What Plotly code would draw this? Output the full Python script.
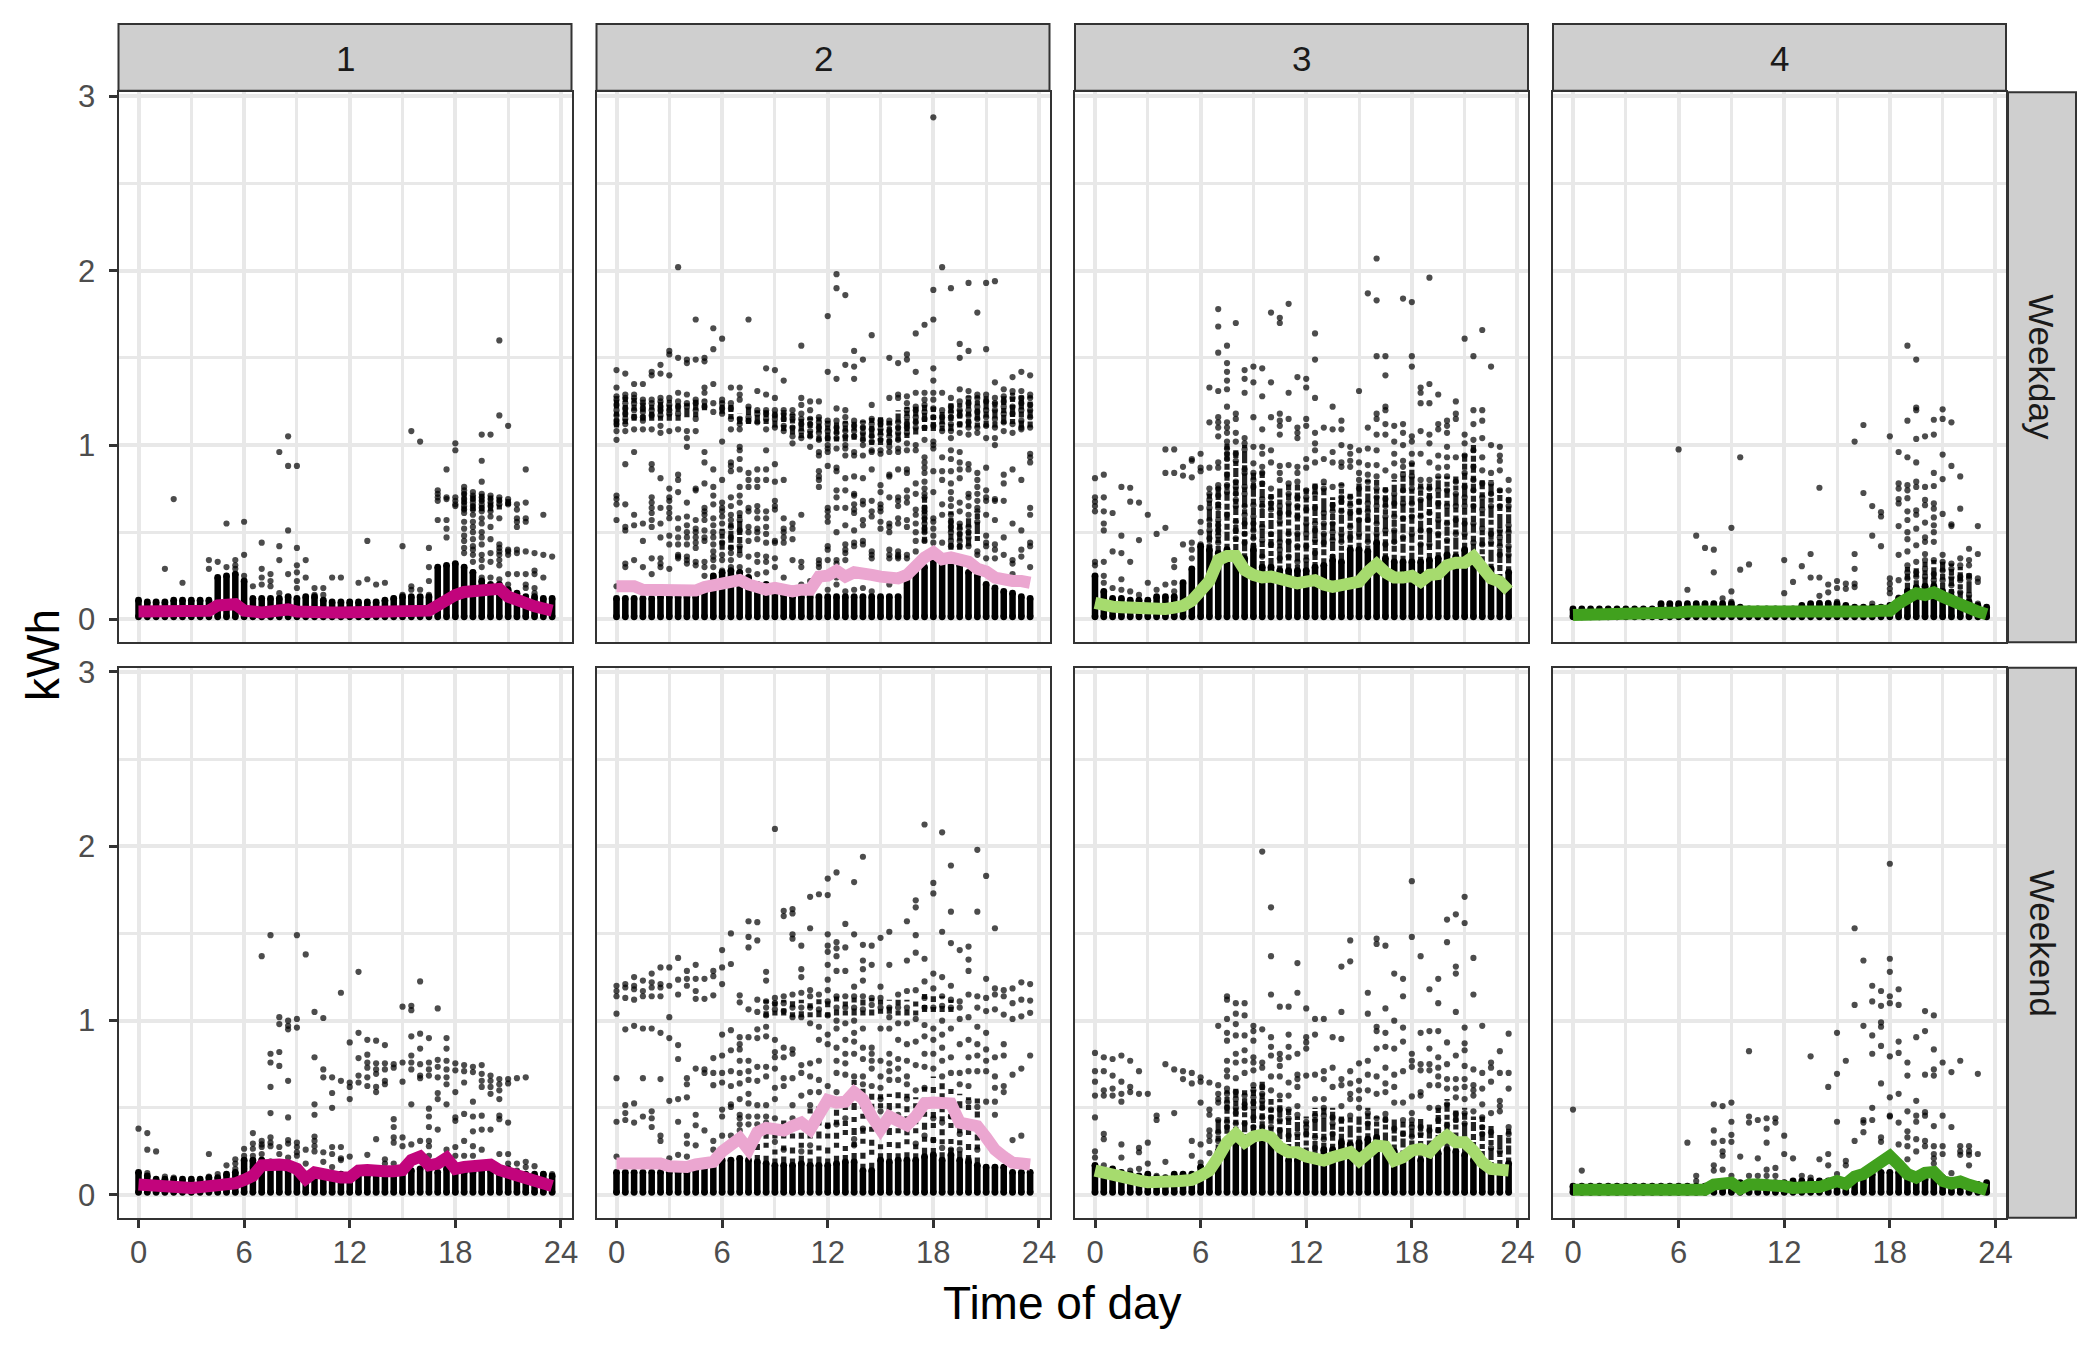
import plotly.graph_objects as go

SLOTS = [h / 2 for h in range(48)]
CLUSTERS = ["1", "2", "3", "4"]
DAYS = ["Weekday", "Weekend"]
COLORS = ["#C2047C", "#EBA6D0", "#A6DB6E", "#41A11E"]

W1_mean = [.045,.045,.045,.045,.045,.045,.045,.045,.05,.08,.09,.087,.05,.04,.04,.045,.057,.057,.045,.04,.04,.04,.04,.04,.04,.04,.04,.04,.04,.04,.04,.04,.045,.05,.08,.12,.14,.157,.165,.165,.17,.175,.13,.107,.09,.075,.062,.05]
W2_mean = [.19,.19,.19,.17,.17,.17,.17,.17,.165,.165,.185,.195,.22,.23,.225,.2,.18,.17,.18,.17,.16,.17,.17,.245,.25,.28,.245,.27,.255,.255,.245,.235,.235,.255,.31,.355,.385,.345,.355,.345,.33,.29,.275,.24,.225,.22,.22,.21]
W3_mean = [.095,.08,.073,.07,.067,.063,.057,.057,.06,.067,.078,.107,.165,.22,.34,.363,.363,.283,.255,.24,.245,.235,.22,.207,.216,.225,.2,.187,.197,.21,.216,.273,.317,.27,.24,.24,.25,.216,.255,.26,.31,.325,.325,.36,.293,.235,.216,.165]
W4_mean = [.025,.025,.025,.025,.025,.025,.025,.03,.03,.03,.035,.04,.04,.045,.045,.04,.04,.04,.04,.035,.035,.03,.03,.03,.03,.03,.03,.03,.035,.035,.035,.035,.04,.045,.045,.05,.05,.09,.13,.15,.14,.155,.13,.105,.08,.06,.045,.03]
E1_mean = [.06,.055,.045,.045,.04,.04,.04,.045,.048,.048,.055,.067,.086,.11,.17,.178,.174,.17,.15,.092,.13,.12,.105,.1,.1,.14,.143,.147,.136,.136,.143,.2,.22,.17,.18,.212,.15,.16,.17,.18,.174,.143,.13,.11,.092,.076,.063,.052]
E2_mean = [.18,.18,.18,.175,.185,.18,.165,.16,.16,.175,.19,.19,.25,.285,.325,.26,.36,.385,.385,.37,.395,.415,.375,.45,.545,.53,.535,.59,.55,.45,.375,.45,.42,.4,.45,.525,.53,.525,.525,.415,.4,.395,.33,.26,.22,.185,.18,.175]
E3_mean = [.14,.125,.12,.11,.092,.082,.073,.069,.069,.078,.082,.086,.11,.14,.216,.302,.35,.302,.335,.346,.33,.273,.245,.245,.22,.207,.197,.216,.235,.245,.197,.24,.283,.277,.197,.216,.254,.264,.245,.302,.34,.302,.302,.254,.187,.149,.149,.14]
E4_mean = [.03,.03,.03,.03,.03,.03,.03,.03,.03,.03,.03,.03,.03,.03,.03,.03,.06,.06,.07,.035,.06,.06,.06,.06,.05,.04,.035,.045,.045,.058,.08,.063,.105,.12,.15,.18,.223,.173,.12,.1,.127,.132,.08,.066,.077,.058,.044,.028]

W1_top = [.11,.1,.1,.1,.11,.11,.11,.11,.11,.24,.25,.26,.22,.12,.12,.12,.12,.13,.12,.13,.13,.11,.1,.1,.1,.1,.1,.1,.11,.12,.13,.13,.13,.13,.3,.31,.32,.3,.27,.22,.2,.2,.17,.15,.13,.13,.12,.12]
W2_top = [.12,.12,.12,.12,.12,.13,.13,.13,.13,.13,.16,.25,.27,.28,.27,.24,.2,.2,.18,.14,.13,.13,.13,.13,.13,.13,.13,.13,.13,.13,.13,.13,.13,.24,.28,.3,.36,.36,.33,.31,.27,.25,.2,.18,.16,.15,.13,.12]
W3_top = [.25,.16,.12,.12,.11,.11,.11,.13,.13,.13,.21,.29,.42,.4,.38,.4,.38,.35,.4,.3,.3,.28,.28,.28,.28,.3,.31,.34,.33,.4,.4,.39,.44,.35,.33,.33,.33,.33,.34,.35,.37,.36,.4,.33,.31,.29,.22,.27]
W4_top = [.06,.06,.06,.06,.06,.06,.06,.06,.06,.06,.09,.09,.09,.09,.09,.09,.09,.09,.09,.07,.06,.06,.06,.06,.06,.06,.08,.09,.09,.09,.09,.08,.07,.07,.07,.07,.08,.12,.16,.18,.19,.19,.16,.13,.1,.1,.08,.07]
E1_top = [.13,.11,.09,.09,.09,.09,.09,.09,.1,.1,.12,.13,.2,.2,.2,.19,.15,.14,.14,.12,.13,.13,.12,.12,.11,.12,.11,.12,.13,.13,.13,.14,.15,.14,.13,.15,.14,.13,.13,.14,.14,.13,.15,.13,.12,.12,.12,.11]
E2_top = [.13,.13,.13,.13,.13,.13,.13,.13,.13,.14,.16,.17,.2,.2,.21,.2,.19,.18,.17,.17,.17,.18,.17,.17,.17,.18,.19,.19,.14,.14,.2,.19,.2,.2,.2,.22,.23,.2,.23,.2,.19,.17,.16,.16,.16,.13,.13,.13]
E3_top = [.17,.14,.15,.13,.12,.11,.12,.1,.1,.12,.12,.12,.16,.16,.25,.3,.34,.32,.31,.32,.3,.28,.2,.2,.22,.2,.26,.26,.3,.29,.3,.32,.33,.25,.25,.22,.22,.2,.22,.24,.26,.25,.23,.2,.2,.16,.16,.18]
E4_top = [.05,.05,.05,.05,.05,.05,.05,.05,.05,.05,.05,.05,.05,.05,.05,.05,.06,.06,.07,.07,.07,.07,.07,.07,.07,.08,.08,.08,.08,.08,.08,.08,.09,.11,.12,.13,.13,.13,.11,.1,.09,.11,.1,.08,.07,.06,.06,.07]

# (slot, low, high) runs of closely packed readings
W1_runs = [(37,.62,.74),(38,.62,.72),(39,.62,.72),(40,.62,.71),(41,.63,.7),(42,.65,.69)]
W2_runs = [(0,1.1,1.28),(1,1.12,1.28),(2,1.14,1.27),(3,1.14,1.26),(4,1.14,1.25),(5,1.14,1.26),(6,1.14,1.26),(7,1.14,1.24),(8,1.16,1.24),(9,1.16,1.26),(10,1.2,1.26),(12,1.18,1.25),(13,1.15,1.23),(14,1.12,1.18),(15,1.12,1.22),(16,1.12,1.2),(17,1.12,1.2),(18,1.1,1.2),(19,1.08,1.2),(20,1.06,1.18),(21,1.04,1.16),(22,1.04,1.16),(23,1.02,1.16),(24,1.02,1.14),(25,1.02,1.14),(26,1.02,1.14),(27,1.03,1.14),(28,1.02,1.14),(29,1.0,1.16),(30,1.0,1.16),(31,1.0,1.14),(32,1.02,1.2),(33,1.04,1.22),(34,1.06,1.22),(35,1.08,1.24),(36,1.08,1.22),(37,1.08,1.2),(38,1.08,1.24),(39,1.1,1.24),(40,1.1,1.28),(41,1.1,1.28),(42,1.1,1.28),(43,1.1,1.26),(44,1.12,1.28),(45,1.12,1.3),(46,1.1,1.3),(47,1.1,1.28),
           (35,.44,.72),(38,.4,.62),(39,.4,.56),(40,.42,.58),(41,.45,.62),(14,.38,.6),(13,.4,.56),(12,.4,.52)]
W3_runs = [(13,.4,.72),(14,.38,.76),(15,.4,1.02),(16,.38,.97),(17,.35,1.0),(18,.4,.85),(19,.3,.85),(20,.3,.72),(21,.28,.75),(22,.28,.78),(23,.28,.78),(24,.28,.75),(25,.3,.78),(26,.31,.78),(27,.34,.7),(28,.33,.78),(29,.4,.72),(30,.4,.78),(31,.39,.8),(32,.44,.8),(33,.35,.76),(34,.33,.8),(35,.33,.85),(36,.33,.9),(37,.33,.78),(38,.34,.78),(39,.35,.82),(40,.37,.82),(41,.36,.82),(42,.4,.95),(43,.33,1.0),(44,.31,.8),(45,.29,.8),(46,.22,.75),(47,.27,.7)]
W4_runs = [(38,.17,.3),(39,.19,.3),(40,.19,.33),(41,.19,.34),(42,.17,.33),(43,.14,.32),(44,.11,.3),(45,.11,.27)]
E2_runs = [(16,.2,.3),(17,.19,.36),(18,.18,.42),(19,.18,.44),(20,.18,.4),(21,.19,.42),(22,.18,.5),(23,.18,.52),(24,.18,.46),(25,.19,.5),(26,.2,.6),(27,.2,.66),(28,.15,.62),(29,.15,.6),(30,.21,.62),(31,.2,.58),(32,.21,.6),(33,.21,.58),(34,.21,.56),(35,.23,.66),(36,.24,.68),(37,.21,.66),(38,.24,.66),(39,.21,.58),(40,.2,.56),(41,.18,.56),
           (17,1.02,1.12),(18,1.03,1.12),(19,1.03,1.12),(20,1.02,1.12),(21,1.02,1.12),(22,1.02,1.14),(23,1.02,1.15),(24,1.02,1.15),(25,1.03,1.14),(26,1.03,1.14),(27,1.03,1.16),(28,1.03,1.14),(29,1.03,1.13),(30,1.04,1.12),(31,1.04,1.12),(32,1.03,1.12),(33,1.03,1.12),(34,1.03,1.14),(35,1.05,1.16),(36,1.05,1.14),(37,1.05,1.14),(38,1.05,1.12)]
E3_runs = [(14,.25,.45),(15,.3,.6),(16,.34,.62),(17,.32,.6),(18,.31,.62),(19,.32,.65),(20,.3,.55),(21,.28,.55),(22,.2,.5),(23,.2,.45),(24,.22,.45),(25,.2,.5),(26,.26,.5),(27,.26,.5),(28,.3,.45),(29,.29,.45),(30,.3,.45),(31,.32,.5),(32,.33,.45),(33,.25,.45),(34,.25,.45),(35,.22,.42),(36,.22,.42),(37,.2,.45),(38,.22,.42),(39,.24,.5),(40,.26,.55),(41,.25,.5),(42,.23,.5),(43,.2,.45),(44,.2,.45),(45,.16,.4),(46,.16,.35),(47,.18,.38)]

W1_pts = {3:[.29],4:[.69],5:[.21],8:[.34,.29],9:[.33],10:[.55,.3],11:[.34,.31,.29],12:[.56,.37,.25],13:[.19],14:[.44,.29,.24,.2],15:[.26,.22,.19],16:[.96,.42,.34,.15],17:[1.05,.88,.51,.26],18:[.88,.41,.31,.27,.22,.18],19:[.34,.24],20:[.18,.14],21:[.18,.14],22:[.24],23:[.24],25:[.21],26:[.45,.23],27:[.2],28:[.21],29:[.12],30:[.42,.14],31:[1.08,.19,.17],32:[1.02,.17],33:[.41,.3,.22,.14],
34:[.74,.72,.7,.68,.57],35:[.86,.7,.69,.57,.52,.47],36:[1.01,.97,.7,.68,.66,.65],37:[.76,.74,.72,.69,.67,.65,.63,.61,.56,.52,.48,.45,.41,.38],38:[.73,.71,.69,.67,.65,.63,.6,.56,.53,.5,.46,.42,.4,.37,.33,.27],39:[1.06,.91,.79,.72,.7,.68,.66,.64,.62,.58,.55,.5,.47,.43,.37,.34,.3,.24],40:[1.06,.71,.69,.67,.65,.62,.59,.53,.46,.38,.33,.24],41:[1.6,1.17,.7,.68,.66,.58,.43,.41,.39,.37,.34,.31,.23],42:[1.11,.69,.67,.66,.4,.39,.37,.26,.2],43:[.66,.63,.58,.56,.53,.4,.38,.26],44:[.86,.67,.58,.56,.39,.26,.2,.18],45:[.38,.28,.26,.18,.15],46:[.6,.37,.24],47:[.36]}

W2_pts = {0:[1.43,1.33,1.28,1.26,1.23,1.2,1.17,1.14,1.12,1.08,1.03,.71,.69,.66,.57,.19],1:[1.41,1.29,1.27,1.24,1.21,1.18,1.15,1.12,1.08,.89,.66,.53,.51,.32,.3,.19],2:[1.35,1.29,1.27,1.24,1.2,1.16,1.09,.96,.6,.54,.34],3:[1.35,1.26,1.24,1.21,1.19,1.16,1.14,1.09,.55,.45,.3],4:[1.42,1.4,1.26,1.24,1.2,1.17,1.09,.89,.86,.7,.67,.64,.61,.57,.53,.35,.26],5:[1.46,1.41,1.27,1.25,1.22,1.2,1.17,1.11,1.07,.81,.64,.55,.47,.35,.32,.3],6:[1.54,1.52,1.4,1.27,1.23,1.2,1.18,1.08,.75,.7,.68,.64,.61,.58,.48,.43,.29],7:[2.02,1.5,1.3,1.25,1.22,1.18,1.09,.83,.8,.73,.58,.52,.47,.43,.37,.36,.35],8:[1.49,1.47,1.29,1.24,1.22,1.08,1.04,.99,.67,.59,.54,.5,.47,.43,.36,.34,.32],9:[1.72,1.49,1.26,1.24,1.2,1.15,1.08,.75,.74,.57,.52,.5,.47,.44,.41,.33,.31],10:[1.5,1.48,1.33,1.3,1.25,1.22,.96,.9,.78,.64,.62,.6,.57,.51,.47,.45,.33,.3,.25],11:[1.67,1.55,1.35,1.24,1.19,.86,.76,.71,.66,.58,.54,.5,.47,.43,.39,.36,.34,.3],12:[1.61,1.26,1.24,1.21,1.18,1.02,.8,.67,.64,.62,.59,.55,.5,.44,.37,.34,.28],13:[1.33,1.24,1.21,1.15,1.09,.9,.88,.85,.7,.65,.6,.57,.53,.47,.41,.38,.34,.3],14:[1.33,1.29,1.26,1.15,1.12,1.09,.99,.97,.92,.86,.76,.71,.67,.61,.57,.51,.42,.37,.3,.27],15:[1.72,1.22,1.16,1.14,.84,.8,.76,.64,.62,.53,.5,.45,.36,.28,.24],16:[1.31,1.2,1.18,1.13,.86,.8,.76,.65,.62,.58,.52,.5,.46,.37,.33,.26],17:[1.44,1.29,1.2,1.18,1.15,1.09,.97,.86,.8,.62,.58,.53,.49,.44,.36,.33,.27],18:[1.43,1.27,1.2,1.17,1.15,1.1,.89,.79,.68,.65,.63,.45,.44,.35,.3],19:[1.37,1.2,1.18,1.15,1.11,1.08,.8,.58,.52,.5,.47,.44,.24],20:[1.2,1.17,1.15,1.1,1.05,1.01,.55,.52,.46,.34],21:[1.57,1.27,1.23,1.18,1.15,1.12,1.08,1.04,.6,.33,.3,.2],22:[1.25,1.2,1.15,1.12,1.08,1.05,.99,.22],23:[1.25,1.16,1.13,1.1,1.07,1.03,.96,.94,.85,.82,.8,.76,.34,.32,.3,.23],
24:[1.74,1.42,1.14,1.12,1.08,1.04,1.0,.98,.96,.88,.64,.62,.59,.56,.42,.4,.34,.26,.17],25:[1.98,1.9,1.38,1.21,1.14,1.1,1.07,1.04,.98,.87,.85,.74,.7,.64,.5,.34,.32,.24,.2],26:[1.86,1.46,1.2,1.16,1.12,1.08,1.05,1.0,.98,.94,.81,.74,.64,.54,.43,.4,.38,.34,.16],27:[1.54,1.45,1.38,1.14,1.11,1.08,1.05,.96,.94,.82,.72,.71,.66,.63,.61,.51,.44,.42,.17],28:[1.49,1.13,1.1,1.07,1.03,1.0,.94,.81,.68,.66,.57,.54,.45,.43,.18],29:[1.63,1.23,1.15,1.12,1.09,1.05,1.02,.97,.96,.86,.68,.62,.59,.39,.37,.35,.16],30:[1.14,1.12,1.09,1.06,1.03,.97,.95,.77,.73,.66,.64,.62,.56,.52,.25],31:[1.5,1.27,1.14,1.12,1.08,1.05,1.02,.99,.96,.83,.82,.7,.55,.53,.5,.4,.37,.35,.2],32:[1.47,1.29,1.27,1.13,1.1,1.07,1.03,.98,.96,.86,.7,.68,.65,.58,.55,.39,.37,.36,.35],33:[1.52,1.49,1.28,1.24,1.2,1.16,1.12,1.1,1.07,1.01,.97,.86,.84,.74,.7,.67,.57,.53,.37,.35,.18],34:[1.64,1.42,1.3,1.22,1.2,1.16,1.13,1.1,1.0,.97,.78,.72,.63,.6,.55,.5,.45,.39,.27,.25],35:[1.69,1.3,1.26,1.23,1.19,1.15,1.1,1.03,.93,.9,.87,.84,.79,.75,.72,.7,.64,.62,.6,.58,.55,.52,.5,.45],36:[2.88,1.89,1.72,1.44,1.37,1.3,1.26,1.21,1.16,1.11,1.02,1.0,.98,.85,.73,.58,.56,.52,.48,.44],37:[2.02,1.3,1.2,1.16,1.12,1.08,.93,.85,.8,.66,.6,.44],38:[1.9,1.27,1.22,1.19,1.16,1.12,1.08,1.04,.97,.92,.85,.78,.73,.69,.65,.6,.56,.53,.5,.45,.42],39:[1.58,1.5,1.32,1.25,1.2,1.17,1.12,1.07,.96,.9,.86,.81,.67,.62,.55,.52,.49,.45,.42],40:[1.93,1.54,1.31,1.27,1.24,1.2,1.17,1.13,1.1,1.06,.89,.86,.72,.7,.65,.6,.53,.5,.47,.42],41:[1.76,1.29,1.27,1.22,1.19,1.15,1.1,1.07,.84,.8,.76,.72,.68,.64,.62,.56,.39,.37],42:[1.93,1.55,1.29,1.25,1.2,1.16,1.11,1.04,.87,.74,.7,.68,.6,.48,.44,.42,.35],43:[1.94,1.36,1.27,1.24,1.2,1.15,1.1,1.04,1.0,.69,.68,.57,.43,.4,.35],44:[1.32,1.28,1.25,1.22,1.18,1.13,1.08,.83,.78,.68,.47,.37],45:[1.39,1.31,1.27,1.22,1.18,1.12,1.07,.86,.55,.34,.32,.26],46:[1.42,1.31,1.27,1.24,1.2,1.14,1.1,1.09,.8,.51,.4,.36],47:[1.4,1.29,1.27,1.23,1.2,1.16,1.1,.95,.93,.9,.64,.6,.44,.42,.3]}

W3_pts = {0:[.81,.7,.675,.65,.62,.33,.31],1:[.83,.7,.62,.55,.51,.33,.25,.21],2:[.61,.39,.18],3:[.76,.48,.38,.23,.17],4:[.755,.675,.33,.16],5:[.67,.455,.14],6:[.6,.21],7:[.49,.17],8:[.975,.84,.525,.2],9:[.975,.84,.34,.3,.21,.16],10:[.875,.825,.43],11:[.92,.91,.815,.44,.4,.35],12:[.95,.87,.85,.64,.56,.5,.43],13:[1.33,1.13,.87,.75,.72,.685,.64,.57,.51,.465,.42],14:[1.78,1.68,1.53,1.31,1.16,1.13,1.1,1.05,.9,.87,.77,.75,.71,.66,.64,.57,.54,.51,.48,.44],15:[1.57,1.47,1.42,1.37,1.32,1.22,1.13,1.1,1.07,1.02,.98,.95,.92,.83,.77,.73,.6],16:[1.7,1.18,1.15,1.07,1.02,.95,.91,.79,.76,.72,.685,.65,.56,.51,.465],17:[1.43,1.38,1.3,1.04,1.01,.975,.86,.84,.76,.72,.65,.6,.55,.49,.44],18:[1.45,1.36,1.16,.99,.895,.84,.8,.76,.655,.59,.55,.51,.465,.42],19:[1.44,1.28,1.09,.99,.95,.875,.84,.78,.69,.65,.53,.455,.36],20:[1.76,1.36,1.16,.97,.9,.75,.7,.665,.63,.49,.43],21:[1.73,1.7,1.18,1.14,1.11,1.06,.88,.84,.8,.65,.61,.56,.445,.4,.35],22:[1.81,1.3,1.15,.885,.78,.72,.665,.61,.49,.445,.36],23:[1.39,1.1,1.07,1.04,.875,.84,.79,.7,.65,.59,.49,.42,.33],
24:[1.38,1.33,1.15,1.11,.92,.87,.74,.7,.63,.55,.49,.42,.34],25:[1.64,1.49,1.27,1.07,1.01,.97,.9,.76,.72,.64,.55,.51,.455,.38],26:[1.1,.92,.79,.75,.61,.55,.49,.44],27:[1.22,1.09,.96,.9,.76,.655,.62,.55,.5,.455,.36],28:[1.14,1.09,1.0,.9,.875,.77,.7,.675,.62,.49,.445],29:[.99,.95,.91,.875,.7,.655,.61,.53,.47],30:[1.31,.97,.9,.84,.8,.75,.675,.62,.57,.49],31:[1.87,1.1,.98,.885,.83,.79,.665,.62,.57,.445],32:[2.07,1.83,1.51,1.18,1.15,1.06,.97,.885,.82,.75,.7,.65,.55,.49],33:[1.51,1.4,1.22,1.2,1.12,1.06,.855,.74,.69,.65,.59,.51,.43],34:[1.11,1.02,.95,.895,.82,.72,.665,.59,.51,.445],35:[1.84,1.12,1.07,1.0,.91,.875,.83,.74,.665,.58,.47],36:[1.82,1.51,1.45,1.05,1.02,.95,.895,.82,.75,.665,.59,.49],37:[1.33,1.3,1.24,1.08,.95,.8,.75,.685,.59,.51,.43],38:[1.96,1.35,1.24,1.06,1.01,.9,.8,.75,.7,.61,.51,.43],39:[1.29,1.12,1.09,.94,.87,.82,.74,.665,.57,.49],40:[1.14,1.11,1.07,.99,.93,.875,.82,.74,.65,.55,.455],41:[1.25,1.18,1.15,.93,.79,.72,.65,.57,.49],42:[1.61,1.06,1.01,.94,.84,.76,.7,.65,.55,.49],43:[1.51,1.2,1.12,1.03,.97,.875,.8,.74,.65,.55,.44],44:[1.66,1.2,1.14,1.04,.93,.855,.78,.7,.63,.52,.43],45:[1.45,1.0,.84,.78,.72,.65,.49,.44],46:[.99,.94,.91,.855,.74,.65,.51,.47,.42,.37],47:[.8,.74,.685,.65,.54,.5,.42,.37]}

W4_pts = {12:[.975],13:[.17],14:[.48],15:[.41],16:[.4,.27],17:[.12],18:[.525,.16,.1],19:[.93,.285],20:[.315],24:[.34,.15],25:[.215],26:[.305],27:[.375,.24],28:[.755,.24,.135,.095],29:[.2,.155,.095],30:[.22,.18,.1],31:[.205,.175],32:[1.02,.375,.29,.205,.185],33:[1.115,.725],34:[.65,.48,.09],35:[.615,.59,.42],36:[1.05,.235,.205,.175,.15],37:[.96,.78,.75,.69,.665,.535,.37,.225,.125],38:[1.57,1.14,.93,.77,.74,.695,.62,.57,.5,.46,.39,.31,.27,.235,.165],39:[1.49,1.215,1.2,1.035,.9,.79,.76,.625,.6,.52,.425,.33,.27,.245,.185],40:[1.05,.76,.685,.655,.555,.47,.445,.375,.34,.29,.245,.185],41:[1.145,1.06,.84,.765,.665,.635,.585,.54,.5,.445,.34,.26,.225,.165],42:[1.205,1.15,.945,.805,.605,.37,.33,.28,.225],43:[1.13,.88,.545,.535,.32,.29,.24,.195,.155],44:[.82,.635,.35,.31,.245,.225,.155],45:[.405,.34,.31,.25,.235,.14],46:[.535,.375,.235,.215,.09]}

E1_pts = {0:[.38],1:[.355,.26,.125],2:[.25],3:[.105],4:[.1],8:[.235,.105],9:[.12],10:[.17,.11],11:[.205,.18,.15,.12],12:[.265,.225,.2,.15],13:[.355,.295,.265,.225,.19,.16],14:[1.37,.31,.29,.275,.235,.2],15:[1.49,.81,.76,.62,.47,.33,.3,.28],16:[1.02,.98,.82,.74,.275,.235],17:[1.0,.97,.95,.655,.445,.315,.295,.215],18:[1.49,1.01,.96,.3,.275,.245,.225],19:[1.38,.26,.18],20:[1.05,.79,.52,.46,.335,.31,.28,.25],21:[1.015,.72,.675,.245,.19],22:[.675,.585,.5,.275,.235,.16],23:[1.16,.655,.275,.21,.2],24:[.875,.645,.62,.55,.22],25:[1.28,.93,.785,.685,.645],26:[.89,.805,.76,.73,.675,.625,.23],27:[.885,.755,.72,.695,.62,.59,.32],28:[.86,.755,.72,.655,.635,.205,.18],29:[.75,.73,.435,.39,.33,.3,.18],30:[1.08,.76,.65,.33,.28],31:[1.085,1.06,.91,.8,.76,.72,.52,.29],32:[1.225,.925,.84,.75,.685,.67,.31],33:[.9,.76,.72,.685,.495,.45,.39,.31,.28,.225],34:[1.07,.775,.735,.675,.585,.55,.375],35:[.9,.84,.77,.72,.675,.635,.52,.26,.23],36:[.755,.715,.59,.445,.425,.275,.225],37:[.745,.71,.645,.465,.31,.225],38:[.735,.705,.535,.45,.365,.28,.225],39:[.745,.695,.655,.62,.455,.375,.26],40:[.685,.655,.62,.58,.375],41:[.665,.635,.6,.55,.455,.435,.235],42:[.665,.64,.415,.235,.18],43:[.67,.18,.14],44:[.675,.19,.16],45:[.165],46:[.12],47:[.12]}

E2_pts = {0:[1.2,1.17,1.14,1.04,.67,.42,.22],1:[1.21,1.19,1.13,.95,.515,.47,.43],2:[1.25,1.2,1.18,1.12,.97,.525,.415],3:[1.23,1.17,1.14,.955,.67,.45],4:[1.27,1.22,1.19,1.14,.955,.48,.44,.39],5:[1.305,1.21,1.19,1.14,.93,.665,.34,.31],6:[1.305,1.2,1.02,.9,.54,.21],7:[1.36,1.235,1.15,.86,.78,.55,.42,.23],8:[1.285,1.24,1.2,.67,.635,.56,.34,.295,.22],9:[1.32,1.24,1.17,1.125,.725,.46,.4,.285],10:[1.24,1.125,.72,.7,.37],11:[1.285,1.255,1.145,.785,.7,.63,.31,.26],12:[1.405,1.305,1.21,.92,.8,.7,.645,.49,.45,.34],13:[1.5,1.325,.945,.83,.71,.625,.52,.505,.34],14:[1.145,1.105,.905,.865,.835,.77,.7,.64,.55,.46,.44,.405,.37],15:[1.57,1.48,1.42,1.065,.905,.77,.71,.66,.58,.525,.45,.405],16:[1.565,1.46,1.12,1.05,.95,.9,.735,.655,.515,.45,.405],17:[1.28,1.23,1.11,1.075,1.03,.965,.91,.735,.68,.515,.45,.415],18:[2.1,1.13,1.1,1.065,.89,.82,.79,.725,.615,.55,.44,.305],19:[1.63,1.6,1.14,1.1,1.055,.845,.79,.67,.625,.39,.26],20:[1.64,1.615,1.495,1.47,1.15,1.075,1.02,.835,.81,.67,.515,.44],21:[1.43,1.295,1.25,1.16,1.075,1.02,.745,.7,.57,.25],22:[1.71,1.53,1.175,1.14,1.075,.985,.755,.68,.59,.515,.285],23:[1.725,1.15,1.065,.965,.89,.77,.66,.59],
24:[1.815,1.72,1.495,1.43,1.395,1.32,1.235,1.175,1.11,1.03,.92,.865,.625,.395],25:[1.85,1.45,1.415,1.37,1.285,1.14,1.075,1.0,.955,.845,.77,.7,.59,.405],26:[1.555,1.42,1.285,1.14,1.075,.985,.89,.81,.755,.69,.44],27:[1.795,1.495,1.195,1.14,1.075,1.0,.93,.88,.81,.68,.32,.285],28:[1.94,1.435,1.345,1.295,1.23,1.14,1.065,.955,.845,.78,.68,.635,.38],29:[1.43,1.32,1.13,1.09,.845,.81,.77,.725,.625],30:[1.475,1.195,1.13,1.075,.955,.77,.68,.615,.55,.48],31:[1.51,1.32,1.075,1.02,.955,.81,.755,.71,.66,.47],32:[1.15,1.075,.985,.89,.78,.725,.66,.46],33:[1.57,1.345,1.17,1.075,.985,.865,.77,.68,.635,.55],34:[1.69,1.65,1.49,1.39,1.175,1.01,.88,.745,.6,.295],35:[2.125,1.355,1.225,1.13,1.075,.975,.91,.81,.735,.615,.34],36:[1.79,1.73,1.27,1.185,1.075,.955,.89,.81,.725,.44,.315],37:[2.08,1.51,1.25,1.14,1.085,1.0,.92,.845,.77,.68,.415,.27],38:[1.89,1.625,1.445,1.2,1.12,1.075,.955,.79,.7,.45,.26],39:[1.405,1.11,1.075,1.01,.865,.7,.635,.35,.26],40:[1.425,1.35,1.285,1.15,1.02,.89,.79,.71,.625,.535,.205],41:[1.98,1.625,1.14,1.075,.965,.865,.8,.71,.505,.26],42:[1.83,1.24,1.13,1.055,.93,.835,.77,.71,.535],43:[1.53,1.185,1.15,1.065,.79,.68,.615,.535,.46],44:[1.175,1.14,1.035,.865,.8,.625,.59],45:[1.185,1.1,1.01,.69,.315],46:[1.22,1.12,1.025,.725,.34],47:[1.21,1.115,1.045,.8]}

E3_pts = {0:[.815,.71,.65,.57,.445,.25,.215],1:[.79,.71,.6,.57,.35,.32,.17],2:[.78,.685,.61,.57],3:[.8,.65,.58,.535,.29,.215],4:[.77,.62,.59,.14],5:[.71,.58,.27,.245,.15],6:[.58,.3,.18],7:[.455,.43,.11],8:[.75,.19],9:[.72,.47],10:[.71,.665],11:[.7,.64,.31,.225],12:[.675,.65,.53,.29,.185,.16],13:[.645,.49,.46,.37,.34,.31,.24],14:[.97,.63,.58,.55,.53,.43,.36,.31],15:[1.14,1.12,1.01,.93,.885,.77,.715,.68,.61,.58,.53,.5,.42,.39],16:[1.1,1.04,.98,.915,.81,.76,.67,.59,.55,.5,.47,.41],17:[1.1,1.03,.915,.83,.77,.7,.57,.52,.5,.41],18:[.97,.94,.885,.79,.76,.715,.63,.6,.56,.53,.5,.445,.39],19:[1.97,.95,.76,.73,.62,.58,.54,.5,.445,.39],20:[1.65,1.37,1.15,.905,.85,.8,.68,.6,.49,.445,.39],21:[1.08,.81,.78,.74,.68,.57,.49,.43,.37],22:[1.08,.92,.85,.79,.645,.57,.49,.44,.34],23:[1.33,1.16,.81,.69,.665,.62,.51,.46,.35],
24:[1.07,.905,.875,.84,.685,.42,.39,.35],25:[1.01,.92,.69,.55,.455,.43,.33,.27],26:[1.01,.71,.665,.55,.5,.455,.32],27:[.905,.73,.62,.445,.41,.35],28:[1.31,1.05,.895,.665,.63,.51,.43,.31],29:[1.46,1.34,.71,.64,.58,.55,.455],30:[.755,.655,.6,.55,.5],31:[1.16,1.04,.77,.69,.6,.47,.41],32:[1.47,1.44,.965,.94,.84,.68,.58,.44],33:[1.43,1.07,.93,.85,.73,.64,.59,.465,.43],34:[1.27,1.0,.84,.69,.62,.53,.38],35:[1.24,1.14,.96,.88,.71,.53,.43,.35],36:[1.8,1.48,.81,.77,.735,.565,.47,.43,.39,.335],37:[1.37,.93,.75,.715,.59,.57,.39,.35],38:[1.18,.94,.84,.75,.715,.63,.5,.37],39:[1.24,1.1,.94,.79,.73,.68,.63,.5,.43,.37],40:[1.58,1.45,.875,.75,.665,.61,.52,.4],41:[1.61,1.31,1.27,1.05,.8,.665,.61,.56,.465,.43],42:[1.71,1.56,.96,.87,.83,.74,.665,.62,.55,.47,.41],43:[1.36,1.15,.72,.63,.6,.57,.48],44:[.97,.7,.61,.52,.445,.39,.35],45:[.76,.73,.65,.47,.36,.27],46:[.825,.7,.54,.51,.48,.25],47:[.925,.7,.61,.39,.35]}

E4_pts = {0:[.49],1:[.14],13:[.3],14:[.11,.08],16:[.52,.37,.3,.17,.14],17:[.51,.31,.25,.225,.145],18:[.53,.42,.345,.305,.11],19:[.22],20:[.825,.45,.415,.11],21:[.43,.21,.11],22:[.44,.38,.3,.145,.11],23:[.44,.415,.155,.11],24:[.34,.235],25:[.21],26:[.11],27:[.795,.1],28:[.205],29:[.62,.235,.17],30:[.93,.695,.42,.12],31:[.77,.195,.17],32:[1.53,1.09,.31,.11],33:[1.345,.97,.43,.415,.36],34:[1.2,1.11,.915,.81,.5,.43,.17],35:[1.17,1.085,.99,.965,.855,.64,.33,.305],36:[1.9,1.355,1.28,1.14,1.1,.795,.56,.455,.45,.195],37:[1.18,1.09,.88,.815,.58,.415,.29],38:[.76,.685,.48,.365,.33,.28,.205],39:[.905,.54,.455,.42,.32,.25],40:[1.055,.94,.69,.475,.455,.31,.28],41:[1.03,.835,.72,.685,.395,.28,.235,.21,.18],42:[.76,.455,.28,.235],43:[.705,.39,.125],44:[.77,.28,.25,.23],45:[.28,.25,.23,.17],46:[.695,.235]}

means = [[W1_mean, W2_mean, W3_mean, W4_mean], [E1_mean, E2_mean, E3_mean, E4_mean]]
tops = [[W1_top, W2_top, W3_top, W4_top], [E1_top, E2_top, E3_top, E4_top]]
points = [[W1_pts, W2_pts, W3_pts, W4_pts], [E1_pts, E2_pts, E3_pts, E4_pts]]
runs = [[W1_runs, W2_runs, W3_runs, W4_runs], [[], E2_runs, E3_runs, []]]
BEADS_DENSE = ["9px,2px,5px,3px", "5px,2px,12px,3px", "7px,3px,6px,2px,14px,3px", "6px,3px,9px,2px"]
BEADS_SPARSE = ["5px,5px,6px,9px", "6px,8px,5px,4px", "5px,4px,5px,11px", "7px,6px,5px,7px"]
bead_sets = [[BEADS_DENSE, BEADS_DENSE, BEADS_DENSE, BEADS_DENSE], [BEADS_SPARSE, BEADS_SPARSE, BEADS_DENSE, BEADS_SPARSE]]

W, H = 2100, 1350
LEFTS = [118.5, 596.5, 1075, 1553]
PW = 453
TOPS = [92.2, 667.8]
PH = 550
GRID = "#E8E8E8"
INK = "#333333"
TXT = "#4D4D4D"
STRIP = "#CFCFCF"
XR = [-1.136, 24.6]
YR = [-0.131, 3.024]
FONT = "Liberation Sans"

fig = go.Figure()
layout = {}
for r in range(2):
    for c in range(4):
        n = r * 4 + c + 1
        xn, yn = f"x{n}", f"y{n}"
        sx, sy = [], []
        for i, t in enumerate(tops[r][c]):
            sx += [SLOTS[i], SLOTS[i], None]
            sy += [0.015, t, None]
        fig.add_trace(go.Scatter(x=sx, y=sy, mode="lines+markers", xaxis=xn, yaxis=yn, showlegend=False,
                                 line=dict(color="black", width=6.5), marker=dict(color="black", size=6.8)))
        for k, dash in enumerate(bead_sets[r][c]):
            rx, ry = [], []
            for slot, lo, hi in runs[r][c]:
                if slot % 4 == k:
                    rx += [SLOTS[slot], SLOTS[slot], None]
                    ry += [lo, hi, None]
            if rx:
                fig.add_trace(go.Scatter(x=rx, y=ry, mode="lines", xaxis=xn, yaxis=yn, showlegend=False,
                                         opacity=0.85, line=dict(color="black", width=5.2, dash=dash)))
        px, py = [], []
        for slot, vals in points[r][c].items():
            px += [SLOTS[slot]] * len(vals)
            py += vals
        fig.add_trace(go.Scatter(x=px, y=py, mode="markers", xaxis=xn, yaxis=yn, showlegend=False,
                                 marker=dict(color="black", size=6.2, opacity=0.7, line=dict(width=0))))
        fig.add_trace(go.Scatter(x=SLOTS, y=means[r][c], mode="lines", xaxis=xn, yaxis=yn, showlegend=False,
                                 line=dict(color=COLORS[c], width=12)))
        layout[f"xaxis{n}"] = dict(
            domain=[LEFTS[c] / W, (LEFTS[c] + PW) / W], range=XR, anchor=yn, automargin=False,
            tickvals=[0, 6, 12, 18, 24], ticktext=["0", "6", "12", "18", "24"],
            showticklabels=r == 1, ticks="outside" if r == 1 else "", ticklen=8, tickwidth=3, tickcolor=INK,
            tickfont=dict(family=FONT, size=31, color=TXT), ticklabelstandoff=-2,
            showgrid=True, gridcolor=GRID, gridwidth=4,
            minor=dict(tickvals=[3, 9, 15, 21], showgrid=True, gridcolor=GRID, gridwidth=2.5, ticks=""),
            zeroline=False, showline=True, mirror=True, linecolor=INK, linewidth=2)
        layout[f"yaxis{n}"] = dict(
            domain=[1 - (TOPS[r] + PH) / H, 1 - TOPS[r] / H], range=YR, anchor=xn, automargin=False,
            tickvals=[0, 1, 2, 3], showticklabels=c == 0, ticks="outside" if c == 0 else "", ticklen=8, tickwidth=3,
            tickcolor=INK, tickfont=dict(family=FONT, size=31, color=TXT), ticklabelstandoff=7,
            showgrid=True, gridcolor=GRID, gridwidth=4,
            minor=dict(tickvals=[0.5, 1.5, 2.5], showgrid=True, gridcolor=GRID, gridwidth=2.5, ticks=""),
            zeroline=False, showline=True, mirror=True, linecolor=INK, linewidth=2)

shapes, annos = [], []
for c, name in enumerate(CLUSTERS):
    shapes.append(dict(type="rect", xref="paper", yref="paper", x0=LEFTS[c] / W, x1=(LEFTS[c] + PW) / W,
                       y0=1 - (TOPS[0] - 1.5) / H, y1=1 - 24 / H, fillcolor=STRIP, line=dict(color=INK, width=2)))
    annos.append(dict(text=name, xref="paper", yref="paper", x=(LEFTS[c] + PW / 2) / W, y=1 - 58 / H,
                      xanchor="center", yanchor="middle", showarrow=False,
                      font=dict(family=FONT, size=35, color="#1A1A1A")))
for r, name in enumerate(DAYS):
    shapes.append(dict(type="rect", xref="paper", yref="paper", x0=(LEFTS[3] + PW + 2) / W, x1=2076 / W,
                       y0=1 - (TOPS[r] + PH) / H, y1=1 - TOPS[r] / H, fillcolor=STRIP, line=dict(color=INK, width=2)))
    annos.append(dict(text=name, xref="paper", yref="paper", x=2042 / W, y=1 - (TOPS[r] + PH / 2) / H, textangle=90,
                      xanchor="center", yanchor="middle", showarrow=False,
                      font=dict(family=FONT, size=35, color="#1A1A1A")))
annos.append(dict(text="Time of day", xref="paper", yref="paper", x=1062 / W, y=1 - 1303 / H, xanchor="center",
                  yanchor="middle", showarrow=False, font=dict(family=FONT, size=46, color="black")))
annos.append(dict(text="kWh", xref="paper", yref="paper", x=43 / W, y=1 - 655 / H, xanchor="center",
                  yanchor="middle", textangle=-90, showarrow=False, font=dict(family=FONT, size=46, color="black")))

fig.update_layout(width=W, height=H, margin=dict(l=0, r=0, t=0, b=0), autosize=False, template="none",
                  paper_bgcolor="white", plot_bgcolor="white", shapes=shapes, annotations=annos, **layout)
fig.write_html("out.html", config={"displayModeBar": False}, post_script="document.body.style.margin='0';")
